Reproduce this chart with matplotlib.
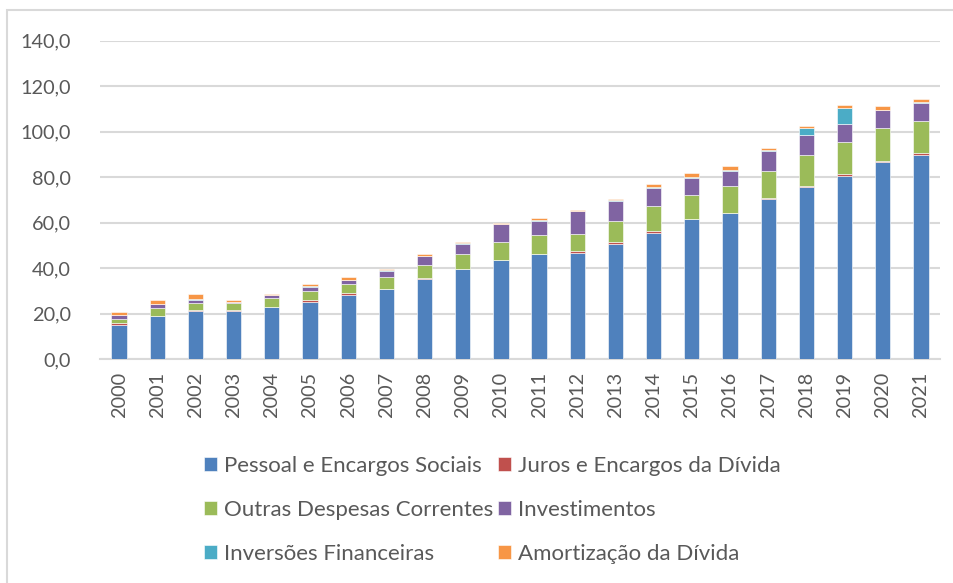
import numpy as np
import matplotlib
matplotlib.use('Agg')
import matplotlib.pyplot as plt
from matplotlib.patches import Rectangle
from matplotlib.ticker import FuncFormatter, MultipleLocator

# data
anos = [str(a) for a in range(2000, 2022)]
pessoal = [15.1, 18.8, 21.0, 21.0, 22.8, 24.9, 28.2, 30.7, 35.4, 39.4, 43.4,
           46.2, 46.6, 50.7, 55.4, 61.5, 64.2, 70.3, 75.7, 80.7, 86.5, 89.9]
juros = [0.8, 0.3, 0.7, 0.7, 0.2, 1.2, 0.9, 0.2, 0.2, 0.2, 0.2,
         0.2, 0.7, 0.7, 0.7, 0.2, 0.2, 0.7, 0.6, 0.7, 0.6, 0.6]
outras = [1.8, 3.3, 2.8, 3.0, 3.8, 4.0, 3.9, 5.1, 5.7, 6.8, 7.7,
          8.3, 7.7, 9.3, 11.3, 10.5, 11.6, 11.9, 13.3, 13.9, 14.3, 14.3]
investimentos = [1.6, 1.7, 1.6, 0.4, 1.2, 1.5, 1.6, 2.8, 4.0, 4.4, 7.9,
                 6.1, 9.9, 9.0, 7.9, 7.6, 6.9, 8.4, 9.1, 7.9, 7.9, 7.9]
inversoes = [0.1, 0.2, 0.1, 0.1, 0.1, 0.5, 0.2, 0.3, 0.1, 0.1, 0.1,
             0.5, 0.1, 0.1, 0.5, 0.4, 0.3, 0.7, 2.9, 7.3, 0.2, 0.2]
amortizacao = [1.3, 1.7, 2.4, 0.6, 0.7, 0.7, 1.3, 0.5, 0.7, 0.6, 0.6,
               0.7, 0.7, 0.6, 1.0, 1.6, 1.5, 1.0, 1.0, 1.0, 1.6, 1.6]

series = [pessoal, juros, outras, investimentos, inversoes, amortizacao]
nomes = ['Pessoal e Encargos Sociais', 'Juros e Encargos da Dívida',
         'Outras Despesas Correntes', 'Investimentos',
         'Inversões Financeiras', 'Amortização da Dívida']
cores = ['#4F81BD', '#C0504D', '#9BBB59', '#8064A2', '#4BACC6', '#F79646']

plt.rcParams['font.family'] = ['Lato', 'DejaVu Sans']

fig = plt.figure(figsize=(9.54, 5.83), dpi=100)
W, H = 954, 583
ax = fig.add_axes([100 / W, 1 - 359 / H, 840 / W, (359 - 40.7) / H])

# chart frame
fig.patches.append(Rectangle((7 / W, -0.1), 1.2, (H - 10) / H + 0.1,
                             transform=fig.transFigure, fill=False,
                             edgecolor='#D9D9D9', linewidth=1.5))

x = np.arange(len(anos))
base = np.zeros(len(anos))
for vals, nome, cor in zip(series, nomes, cores):
    ax.bar(x, vals, width=0.4, bottom=base, color=cor, label=nome,
           edgecolor='white', linewidth=0.4, zorder=3)
    base += np.array(vals)

ax.set_xlim(-0.5, len(anos) - 0.5)
ax.set_ylim(0, 140)
ax.yaxis.set_major_locator(MultipleLocator(20))
ax.yaxis.set_major_formatter(FuncFormatter(lambda v, p: f'{v:.1f}'.replace('.', ',')))
ax.grid(axis='y', color='#D9D9D9', linewidth=1.5, zorder=0)
for s in ['top', 'right', 'left']:
    ax.spines[s].set_visible(False)
ax.spines['bottom'].set_color('#D9D9D9')
ax.spines['bottom'].set_linewidth(1.5)
ax.set_xticks(x)
ax.set_xticklabels(anos, rotation=90)
ax.tick_params(axis='both', length=0, labelsize=14.3, labelcolor='#595959')
ax.tick_params(axis='y', pad=21)
ax.tick_params(axis='x', pad=9)

# legend filled row by row, as in the original
handles, labels = ax.get_legend_handles_labels()
ordem = [0, 2, 4, 1, 3, 5]
fig.legend([handles[i] for i in ordem], [labels[i] for i in ordem], ncol=2,
           loc='upper left', bbox_to_anchor=(184 / W, 1 - 436 / H),
           frameon=False, fontsize=16, labelcolor='#595959',
           handlelength=0.6, handleheight=0.6, handletextpad=0.3,
           columnspacing=0.2, labelspacing=1.08)

fig.savefig('out.png', dpi=100)
